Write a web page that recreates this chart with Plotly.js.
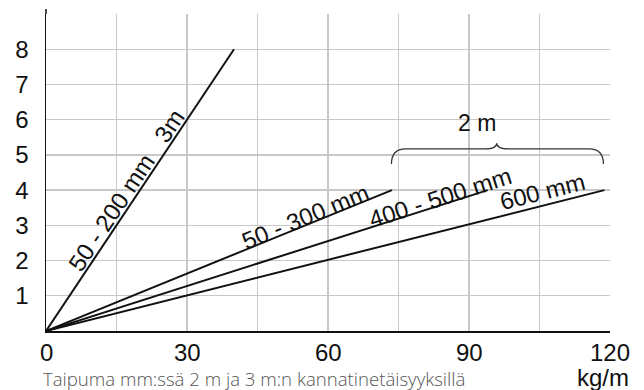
<!DOCTYPE html>
<html>
<head>
<meta charset="utf-8">
<script src="https://cdn.plot.ly/plotly-3.0.1.min.js"></script>
<style>html,body{margin:0;padding:0;background:#fff;}#chart{width:644px;height:390px;}</style>
</head>
<body>
<div id="chart"></div>
<script>
// Data
var seriesNames = ["50 - 200 mm   3m", "50 - 300 mm", "400 - 500 mm", "600 mm"];
var loadEnd = [40, 73.6, 94, 118.8];      // kg/m at line end
var deflEnd = [8, 4, 4, 4];               // mm at line end
var xTickVals = [0, 15, 30, 45, 60, 75, 90, 105, 120];
var xTickText = ["0", "", "30", "", "60", "", "90", "", "120"];
var yTickVals = [1, 2, 3, 4, 5, 6, 7, 8, 9];
var yTickText = ["1", "2", "3", "4", "5", "6", "7", "8", ""];
// label anchor points (data coords) and angles
var labelX = [17.0, 55.3, 83.8, 105.6];
var labelY = [4.0, 3.25, 3.8, 3.97];
var labelAngle = [-56.3, -22.2, -17.7, -14.2];
var braceLabel = "2 m";
var caption = "Taipuma mm:ssä 2 m ja 3 m:n kannatinetäisyyksillä";
var unitLabel = "kg/m";

var traces = seriesNames.map(function (n, i) {
  return {
    x: [0, loadEnd[i]], y: [0, deflEnd[i]], mode: "lines", type: "scatter",
    line: {color: "#111", width: 2}, name: n, showlegend: false, hoverinfo: "skip"
  };
});

var font = "Liberation Sans, Arial, Helvetica, sans-serif";
var annotations = seriesNames.map(function (n, i) {
  return {
    x: labelX[i], y: labelY[i], xref: "x", yref: "y", text: n.replace(/ {3}/, "\u00a0\u00a0\u00a0"),
    showarrow: false, textangle: labelAngle[i], xanchor: "center", yanchor: "middle",
    font: {family: font, size: 24, color: "#111"}
  };
});
// x tick labels placed through the x axis scale
xTickVals.forEach(function (v, i) {
  if (!xTickText[i]) return;
  annotations.push({x: v, y: 0, xref: "x", yref: "paper", text: xTickText[i], showarrow: false,
    xanchor: "center", yanchor: "top", yshift: -6, font: {family: font, size: 24, color: "#111"}});
});
annotations.push({x: 91.6, y: 5.9, xref: "x", yref: "y", text: braceLabel, showarrow: false,
  xanchor: "center", yanchor: "middle", font: {family: font, size: 23, color: "#111"}});
annotations.push({x: 42, y: 378, xref: "paper", yref: "paper", text: caption, showarrow: false,
  xanchor: "left", yanchor: "middle", borderpad: 0,
  font: {family: "Open Sans, sans-serif", size: 18.6, color: "#555", weight: 300}});
annotations.push({x: 603, y: 377, xref: "paper", yref: "paper", text: unitLabel, showarrow: false,
  xanchor: "center", yanchor: "middle", borderpad: 0, font: {family: font, size: 24, color: "#111"}});

// convert pixel positions of the paper annotations to paper fractions
var L = 46, R = 34, T = 14, B = 59, W = 644, H = 390;
annotations.forEach(function (a) {
  if (a.xref === "paper") {
    a.x = (a.x - L) / (W - L - R);
    a.y = (H - B - a.y) / (H - T - B);
  }
});

// curly brace over the 2 m group
var bx0 = 73.5, bx1 = 118.6, bxm = 95.9, byEnd = 4.74, byTop = 5.17, byTip = 5.33;
var rx = 3.0, rmx = 2.6;
var bracePath = "M " + bx0 + "," + byEnd +
  " Q " + bx0 + "," + byTop + " " + (bx0 + rx) + "," + byTop +
  " L " + (bxm - rmx) + "," + byTop +
  " Q " + bxm + "," + byTop + " " + bxm + "," + byTip +
  " Q " + bxm + "," + byTop + " " + (bxm + rmx) + "," + byTop +
  " L " + (bx1 - rx) + "," + byTop +
  " Q " + bx1 + "," + byTop + " " + bx1 + "," + byEnd;

var layout = {
  width: W, height: H,
  margin: {l: L, r: R, t: T, b: B, pad: 0},
  paper_bgcolor: "#fff", plot_bgcolor: "#fff",
  showlegend: false,
  xaxis: {
    range: [0, 120], tickvals: xTickVals, ticktext: xTickText, showgrid: true,
    gridcolor: "#c8c8c8", gridwidth: 1.3, zeroline: false, showline: true,
    linecolor: "#111", linewidth: 1.5, ticks: "", showticklabels: false, fixedrange: true
  },
  yaxis: {
    range: [0, 9], tickvals: yTickVals, ticktext: yTickText, showgrid: true,
    gridcolor: "#c8c8c8", gridwidth: 1.3, zeroline: false, showline: true,
    linecolor: "#111", linewidth: 1.5, ticks: "", ticklabelstandoff: 11,
    tickfont: {family: font, size: 24, color: "#111"}, fixedrange: true
  },
  annotations: annotations,
  shapes: [
    {type: "path", xref: "x", yref: "y", path: bracePath, line: {color: "#333", width: 1.3}},
    {type: "line", xref: "paper", yref: "paper", x0: 0, x1: 0, y0: 1, y1: 1 + 5 / (H - T - B),
      line: {color: "#111", width: 1.5}}
  ]
};

Plotly.newPlot("chart", traces, layout, {staticPlot: true, displayModeBar: false});
</script>
</body>
</html>
